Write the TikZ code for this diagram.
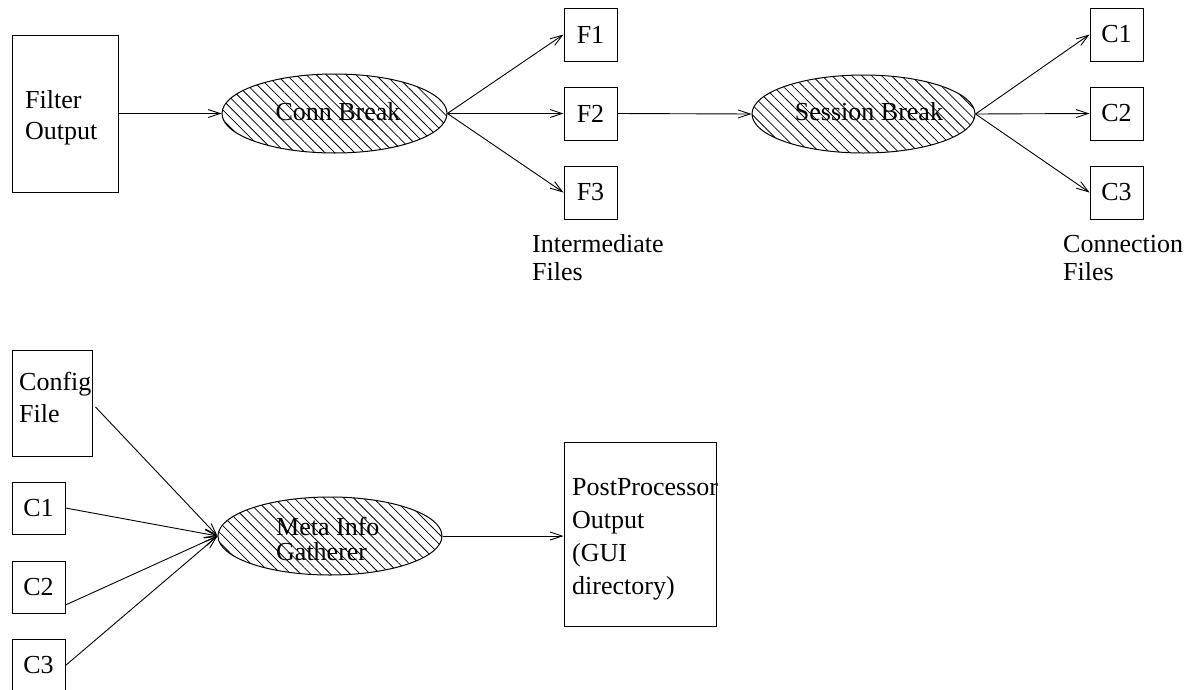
\documentclass[tikz,border=0pt]{standalone}
\usepackage{fontspec}
\setmainfont{Liberation Serif}
\usetikzlibrary{arrows.meta,shapes.geometric,patterns.meta}
\begin{document}
\begin{tikzpicture}[x=1pt,y=-1pt,
  every node/.style={font=\fontsize{26}{31}\selectfont, inner sep=0pt},
  filebox/.style args={#1x#2}{draw, line width=1pt, rectangle,
    minimum width=#1pt, minimum height=#2pt},
  stage/.style args={#1x#2}{draw, line width=1pt, ellipse,
    minimum width=#1pt, minimum height=#2pt,
    pattern={Lines[angle=-45, distance=7pt, line width=0.8pt]}},
  label/.style={anchor=base west, align=left},
  arr/.style={line width=0.9pt, -{Straight Barb[length=12pt, width=8pt, line width=0.9pt]}}
]
\clip (0,0) rectangle (1194,689);

% ---- stage 1: connection break ----
\node[filebox=106x157] (filt) at (65,113.5) {};
\node[label] (filtlbl) at (25,108) {\vtop{\hbox{Filter}\hbox{Output}}};
\node[stage=225x79] (conn) at (334.5,113.5) {};
\node[anchor=base] (connlbl) at (338,120) {Conn Break};

\node[filebox=53x53] (f1) at (590.5,34.5) {F1};
\node[filebox=53x53] (f2) at (590.5,113.5) {F2};
\node[filebox=53x53] (f3) at (590.5,192.5) {F3};
\node[label] (intlbl) at (532,252) {\fontsize{26}{28}\selectfont\vtop{\hbox{Intermediate}\hbox{Files}}};

% ---- stage 2: session break ----
\node[stage=223x78] (sess) at (863.5,114) {};
\node[anchor=base] (sesslbl) at (869,120) {Session Break};

\node[filebox=53x53] (c1) at (1116.5,34.5) {C1};
\node[filebox=53x53] (c2) at (1116.5,113.5) {C2};
\node[filebox=53x53] (c3) at (1116.5,192.5) {C3};
\node[label] (connfiles) at (1063,252) {\fontsize{26}{28}\selectfont\vtop{\hbox{Connection}\hbox{Files}}};

% ---- stage 3: meta info gathering ----
\node[filebox=80x106] (cfg) at (52,403) {};
\node[label] (cfglbl) at (19,390) {\fontsize{26}{32}\selectfont\vtop{\hbox{Config}\hbox{File}}};
\node[filebox=53x52] (m1) at (38.5,508) {C1};
\node[filebox=53x52] (m2) at (38.5,587) {C2};
\node[filebox=53x53] (m3) at (38.5,665.5) {C3};

\node[stage=224x78] (meta) at (330,536) {};
\node[label] (metalbl) at (276,535) {\fontsize{26}{25}\selectfont\vtop{\hbox{Meta Info}\hbox{Gatherer}}};

\node[filebox=152x184] (post) at (640,534) {};
\node[label] (postlbl) at (572,495) {\fontsize{26}{33}\selectfont\vtop{\hbox{PostProcessor}\hbox{Output}\hbox{(GUI}\hbox{directory)}}};

% ---- connectors ----
\draw[arr] (filt.east) -- (conn.west);
\draw[arr] (conn.east) -- (f1.west);
\draw[arr] (conn.east) -- (f2.west);
\draw[arr] (conn.east) -- (f3.west);
\draw[arr] (f2.east) -- (sess.west);
\draw[arr] (sess.east) -- (c1.west);
\draw[arr] (sess.east) -- (c2.west);
\draw[arr] (sess.east) -- (c3.west);

\draw[arr] ([xshift=3pt,yshift=-4pt]cfg.east) -- (meta.west);
\draw[arr] (m1.east) -- (meta.west);
\draw[arr] ([yshift=-18pt]m2.east) -- (meta.west);
\draw[arr] (m3.east) -- (meta.west);
\draw[arr] (meta.east) -- (meta.east -| post.west);
\end{tikzpicture}
\end{document}
